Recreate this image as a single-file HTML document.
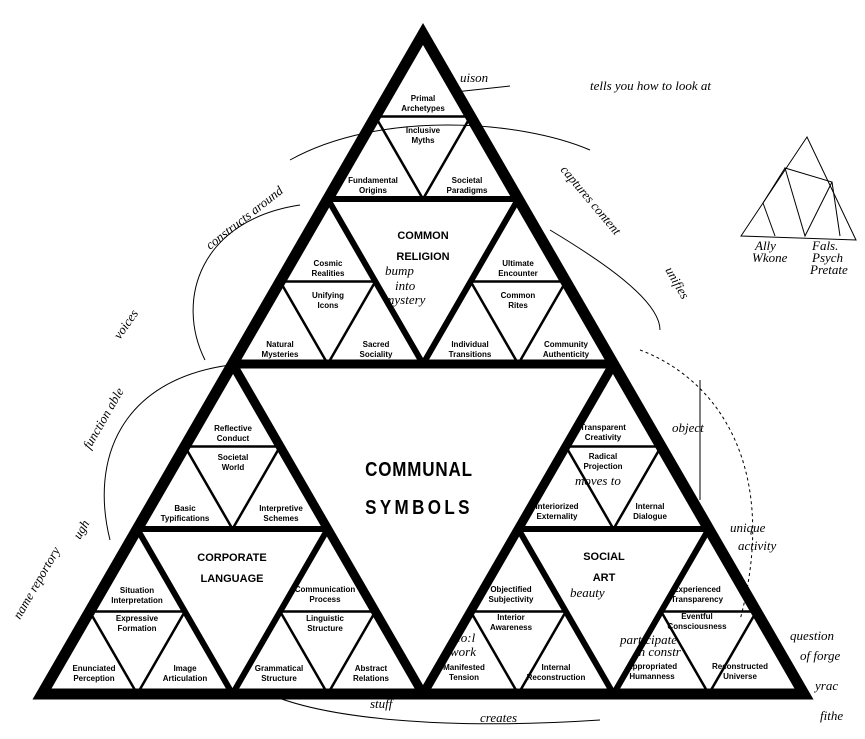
<!DOCTYPE html>
<html><head><meta charset="utf-8"><style>
html,body{margin:0;padding:0;background:#fff;}
svg{display:block;}
.l{font-family:"Liberation Sans",sans-serif;font-weight:bold;font-size:8px;text-anchor:middle;fill:#000;}
.c{font-family:"Liberation Sans",sans-serif;font-weight:bold;font-size:11px;text-anchor:middle;fill:#000;}
.h{font-family:"Liberation Serif",serif;font-style:italic;font-size:13px;fill:#000;}
</style></head><body>
<svg width="865" height="739" viewBox="0 0 865 739" xmlns="http://www.w3.org/2000/svg">
<rect width="865" height="739" fill="#fff"/>
<g fill="none" stroke="#000" stroke-width="1">
<path d="M205,360 C175,300 200,220 300,205"/>
<path d="M230,365 C120,380 90,460 110,540"/>
<path d="M290,160 C380,110 520,120 590,150"/>
<path d="M550,230 C600,260 660,300 660,330"/>
<path d="M640,350 C720,380 780,470 740,620" stroke-dasharray="3,3"/>
<path d="M260,690 C320,720 450,730 600,720"/>
<path d="M700,380 L700,500"/>
<path d="M455,92 L510,86"/>
</g>
<g fill="none" stroke="#000" stroke-width="1">
<path d="M807,137 L741,236 L856,240 Z"/>
<path d="M785,168 L832,182 L805,236 Z"/>
<path d="M763,203 L785,168"/>
<path d="M763,203 L775,236"/>
<path d="M832,182 L840,236"/>
</g>
<text class="h" x="460" y="82">uison</text>
<text class="h" x="590" y="90">tells you how to look at</text>
<text class="h" x="210" y="250" transform="rotate(-38 210 250)">constructs around</text>
<text class="h" x="560" y="170" transform="rotate(50 560 170)">captures content</text>
<text class="h" x="665" y="270" transform="rotate(60 665 270)">unifies</text>
<text class="h" x="120" y="340" transform="rotate(-55 120 340)">voices</text>
<text class="h" x="90" y="450" transform="rotate(-60 90 450)">function  able</text>
<text class="h" x="80" y="540" transform="rotate(-60 80 540)">ugh</text>
<text class="h" x="20" y="620" transform="rotate(-60 20 620)">name  reportory</text>
<text class="h" x="672" y="432">object</text>
<text class="h" x="730" y="532">unique</text>
<text class="h" x="738" y="550">activity</text>
<text class="h" x="790" y="640">question</text>
<text class="h" x="800" y="660">of forge</text>
<text class="h" x="815" y="690">yrac</text>
<text class="h" x="820" y="720">fithe</text>
<text class="h" x="755" y="250" font-size="11">Ally</text>
<text class="h" x="752" y="262" font-size="11">Wkone</text>
<text class="h" x="812" y="250" font-size="10">Fals.</text>
<text class="h" x="812" y="262" font-size="10">Psych</text>
<text class="h" x="810" y="274" font-size="10">Pretate</text>
<text class="h" x="370" y="708">stuff</text>
<text class="h" x="480" y="722">creates</text>
<text class="h" x="385" y="275">bump</text>
<text class="h" x="395" y="290" font-size="10">into</text>
<text class="h" x="385" y="304" font-size="10">mystery</text>
<text class="h" x="575" y="485">moves to</text>
<text class="h" x="570" y="597">beauty</text>
<text class="h" x="455" y="642">co:l</text>
<text class="h" x="450" y="656">work</text>
<text class="h" x="620" y="644">participate</text>
<text class="h" x="635" y="656">in constr</text>

<polygon points="423,34 42,694 804,694" fill="none" stroke="#000" stroke-width="11" stroke-linejoin="miter"/>
<polygon points="232.5,364 613.5,364 423,694" fill="none" stroke="#000" stroke-width="9" stroke-linejoin="bevel"/>
<g fill="none" stroke="#000" stroke-width="6" stroke-linejoin="bevel">
<polygon points="327.75,199 518.25,199 423,364"/>
<polygon points="137.25,529 327.75,529 232.5,694"/>
<polygon points="518.25,529 708.75,529 613.5,694"/>
</g>
<g fill="none" stroke="#000" stroke-width="2.5" stroke-linejoin="bevel">
<polygon points="375.4,116.5 470.6,116.5 423,199"/>
<polygon points="280.15,281.5 375.35,281.5 327.75,364"/>
<polygon points="470.65,281.5 565.85,281.5 518.25,364"/>
<polygon points="184.9,446.5 280.1,446.5 232.5,529"/>
<polygon points="89.65,611.5 184.85,611.5 137.25,694"/>
<polygon points="280.15,611.5 375.35,611.5 327.75,694"/>
<polygon points="565.9,446.5 661.1,446.5 613.5,529"/>
<polygon points="470.65,611.5 565.85,611.5 518.25,694"/>
<polygon points="661.15,611.5 756.35,611.5 708.75,694"/>
</g>

<text class="l" x="423" y="101">Primal</text><text class="l" x="423" y="111">Archetypes</text>
<text class="l" x="423" y="133">Inclusive</text><text class="l" x="423" y="143">Myths</text>
<text class="l" x="373" y="183">Fundamental</text><text class="l" x="373" y="193">Origins</text>
<text class="l" x="467" y="183">Societal</text><text class="l" x="467" y="193">Paradigms</text>
<text class="l" x="328" y="266">Cosmic</text><text class="l" x="328" y="276">Realities</text>
<text class="l" x="328" y="298">Unifying</text><text class="l" x="328" y="308">Icons</text>
<text class="l" x="280" y="347">Natural</text><text class="l" x="280" y="357">Mysteries</text>
<text class="l" x="376" y="347">Sacred</text><text class="l" x="376" y="357">Sociality</text>
<text class="l" x="518" y="266">Ultimate</text><text class="l" x="518" y="276">Encounter</text>
<text class="l" x="518" y="298">Common</text><text class="l" x="518" y="308">Rites</text>
<text class="l" x="470" y="347">Individual</text><text class="l" x="470" y="357">Transitions</text>
<text class="l" x="566" y="347">Community</text><text class="l" x="566" y="357">Authenticity</text>
<text class="l" x="233" y="431">Reflective</text><text class="l" x="233" y="441">Conduct</text>
<text class="l" x="233" y="460">Societal</text><text class="l" x="233" y="470">World</text>
<text class="l" x="185" y="511">Basic</text><text class="l" x="185" y="521">Typifications</text>
<text class="l" x="281" y="511">Interpretive</text><text class="l" x="281" y="521">Schemes</text>
<text class="l" x="137" y="593">Situation</text><text class="l" x="137" y="603">Interpretation</text>
<text class="l" x="137" y="621">Expressive</text><text class="l" x="137" y="631">Formation</text>
<text class="l" x="94" y="671">Enunciated</text><text class="l" x="94" y="681">Perception</text>
<text class="l" x="185" y="671">Image</text><text class="l" x="185" y="681">Articulation</text>
<text class="l" x="325" y="592">Communication</text><text class="l" x="325" y="602">Process</text>
<text class="l" x="325" y="621">Linguistic</text><text class="l" x="325" y="631">Structure</text>
<text class="l" x="279" y="671">Grammatical</text><text class="l" x="279" y="681">Structure</text>
<text class="l" x="371" y="671">Abstract</text><text class="l" x="371" y="681">Relations</text>
<text class="l" x="603" y="430">Transparent</text><text class="l" x="603" y="440">Creativity</text>
<text class="l" x="603" y="459">Radical</text><text class="l" x="603" y="469">Projection</text>
<text class="l" x="557" y="509">Interiorized</text><text class="l" x="557" y="519">Externality</text>
<text class="l" x="650" y="509">Internal</text><text class="l" x="650" y="519">Dialogue</text>
<text class="l" x="511" y="592">Objectified</text><text class="l" x="511" y="602">Subjectivity</text>
<text class="l" x="511" y="620">Interior</text><text class="l" x="511" y="630">Awareness</text>
<text class="l" x="464" y="670">Manifested</text><text class="l" x="464" y="680">Tension</text>
<text class="l" x="556" y="670">Internal</text><text class="l" x="556" y="680">Reconstruction</text>
<text class="l" x="697" y="592">Experienced</text><text class="l" x="697" y="602">Transparency</text>
<text class="l" x="697" y="619">Eventful</text><text class="l" x="697" y="629">Consciousness</text>
<text class="l" x="652" y="669">Appropriated</text><text class="l" x="652" y="679">Humanness</text>
<text class="l" x="740" y="669">Reconstructed</text><text class="l" x="740" y="679">Universe</text>

<text class="c" x="423" y="239">COMMON</text><text class="c" x="423" y="260">RELIGION</text>
<text class="c" x="232" y="561">CORPORATE</text><text class="c" x="232" y="582">LANGUAGE</text>
<text class="c" x="604" y="560">SOCIAL</text><text class="c" x="604" y="581">ART</text>
<text x="419" y="476" font-family="Liberation Sans, sans-serif" font-weight="bold" font-size="20" text-anchor="middle" letter-spacing="1" transform="translate(419 0) scale(0.85 1) translate(-419 0)">COMMUNAL</text>
<text x="419" y="514" font-family="Liberation Sans, sans-serif" font-weight="bold" font-size="20" text-anchor="middle" letter-spacing="4" transform="translate(419 0) scale(0.85 1) translate(-419 0)">SYMBOLS</text>
</svg>
</body></html>
